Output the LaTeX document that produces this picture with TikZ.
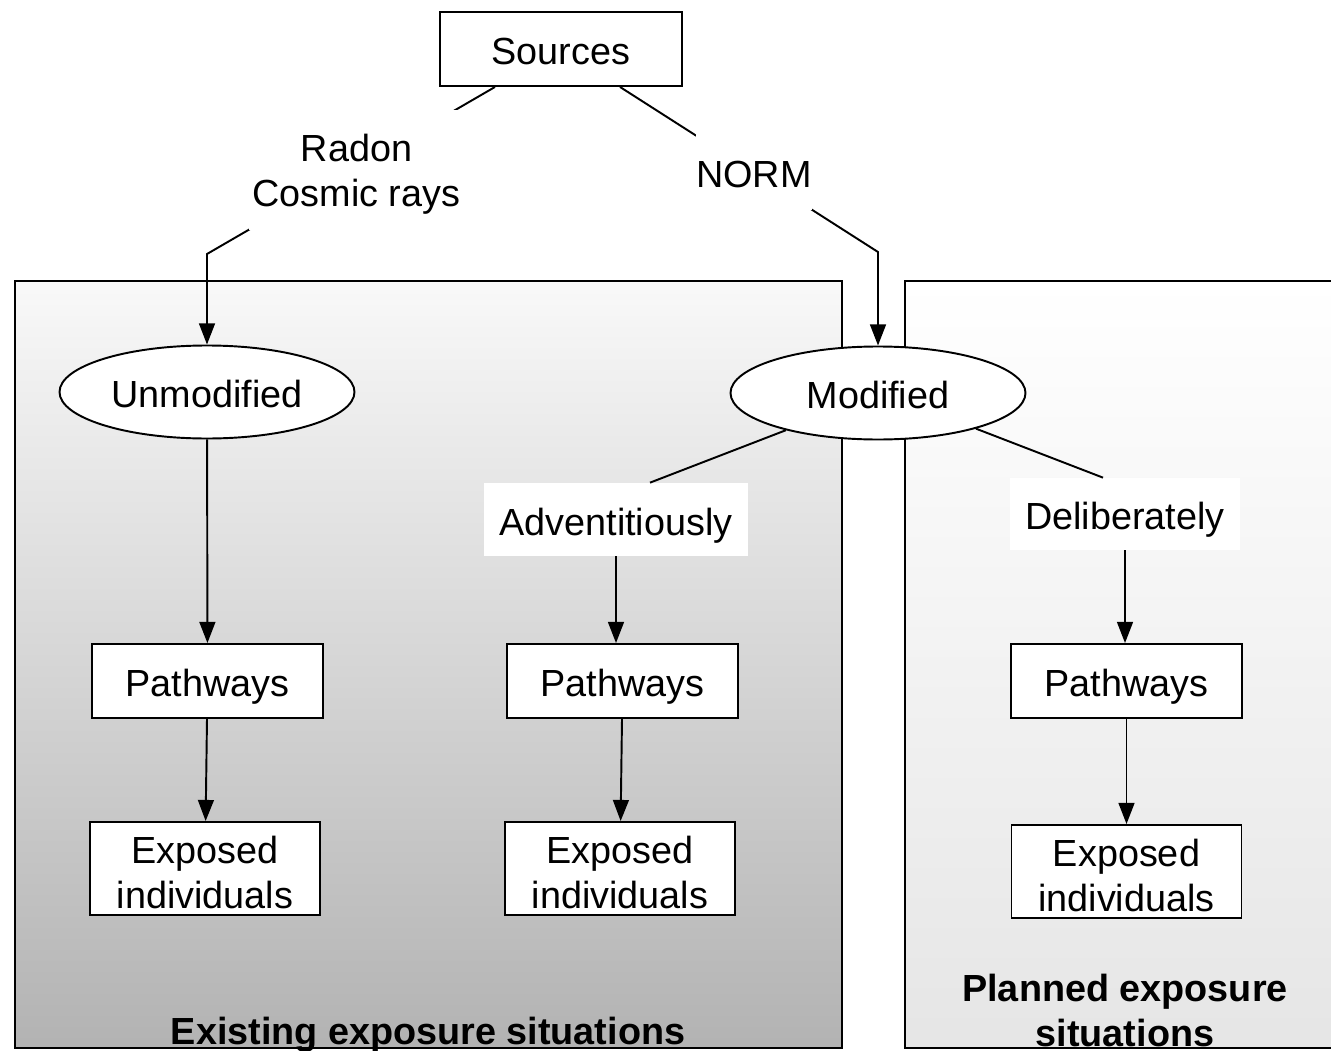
\documentclass[tikz,border=0pt]{standalone}
\usepackage{fontspec}
\setmainfont{Liberation Sans}
\usetikzlibrary{shapes.geometric,arrows.meta}
\pgfdeclarelayer{back}
\pgfdeclarelayer{mid}
\pgfsetlayers{back,mid,main}
\tikzset{
  box/.style={draw,fill=white,line width=1.1pt,align=center,inner sep=0pt},
  oval/.style={ellipse,draw,fill=white,line width=1.1pt,inner sep=0pt,minimum width=5.9cm,minimum height=1.86cm,one},
  tag/.style={fill=white,align=center,inner sep=0pt},
  one/.style={text height=18.2pt,text depth=0pt},
  link/.style={line width=1.1pt},
  arr/.style={link,-{Triangle[width=9pt,length=12pt]}},
  panel/.style={draw,line width=1.1pt},
}
\begin{document}
\begin{tikzpicture}[font=\fontsize{21.5}{25.6}\selectfont]
\clip (0,0) rectangle (26.62,-21.02);
\begin{pgfonlayer}{back}
\shadedraw[panel,top color=gray!5,bottom color=gray!60](0.3,-5.62) rectangle (16.84,-20.96);
\shadedraw[panel,top color=white,bottom color=gray!20](18.1,-5.62) rectangle (27,-20.96);
\end{pgfonlayer}
\node[box,one,minimum width=4.84cm,minimum height=1.48cm] (src) at (11.22,-0.98) {Sources};
\node[tag,minimum width=4.3cm,minimum height=2.4cm] (rad) at (7.13,-3.4) {\rule{0pt}{20.8pt}Radon\\Cosmic rays};
\node[tag,one,minimum width=2.3cm,minimum height=1.54cm] (norm) at (15.08,-3.44) {NORM};
\node[oval] (unmod) at (4.14,-7.84) {Unmodified};
\node[oval] (mod) at (17.56,-7.86) {Modified};
\node[tag,one,minimum width=5.28cm,minimum height=1.46cm] (adv) at (12.32,-10.39) {Adventitiously};
\node[tag,one,minimum width=4.6cm,minimum height=1.44cm] (del) at (22.5,-10.28) {Deliberately};
\node[box,one,minimum width=4.62cm,minimum height=1.48cm] (pw1) at (4.15,-13.62) {Pathways};
\node[box,one,minimum width=4.62cm,minimum height=1.48cm] (pw2) at (12.45,-13.62) {Pathways};
\node[box,one,minimum width=4.62cm,minimum height=1.48cm] (pw3) at (22.53,-13.62) {Pathways};
\node[box,minimum width=4.6cm,minimum height=1.86cm] (ex1) at (4.1,-17.37) {\rule{0pt}{19.8pt}Exposed\\individuals};
\node[box,minimum width=4.6cm,minimum height=1.86cm] (ex2) at (12.4,-17.37) {\rule{0pt}{19.8pt}Exposed\\individuals};
\node[box,minimum width=4.6cm,minimum height=1.86cm] (ex3) at (22.53,-17.43) {\rule{0pt}{19.8pt}Exposed\\individuals};
\node[font=\fontsize{21.5}{25.6}\selectfont\bfseries] (exist) at (8.56,-20.7) {Existing exposure situations};
\node[font=\fontsize{21.5}{25.6}\selectfont\bfseries,align=center] (plan) at (22.5,-20.2) {Planned exposure\\situations};
\begin{pgfonlayer}{mid}
\coordinate (kneeL) at (4.14,-5.08);
\coordinate (kneeR) at (17.56,-5.04);
\draw[arr]([xshift=-1.32cm]src.south)--(kneeL)--(unmod);
\draw[arr]([xshift=1.18cm]src.south)--(kneeR)--(mod);
\end{pgfonlayer}
\draw[link](mod.202)--([xshift=0.68cm]adv.north);
\draw[link](mod.-20)--([xshift=-0.44cm]del.north);
\draw[arr](unmod)--(pw1);
\draw[arr](adv.south)--(adv.south |- pw2.north);
\draw[arr](del.south)--(del.south |- pw3.north);
\draw[arr](pw1)--(ex1);
\draw[arr](pw2)--(ex2);
\draw[arr](pw3)--(ex3);
\end{tikzpicture}
\end{document}
